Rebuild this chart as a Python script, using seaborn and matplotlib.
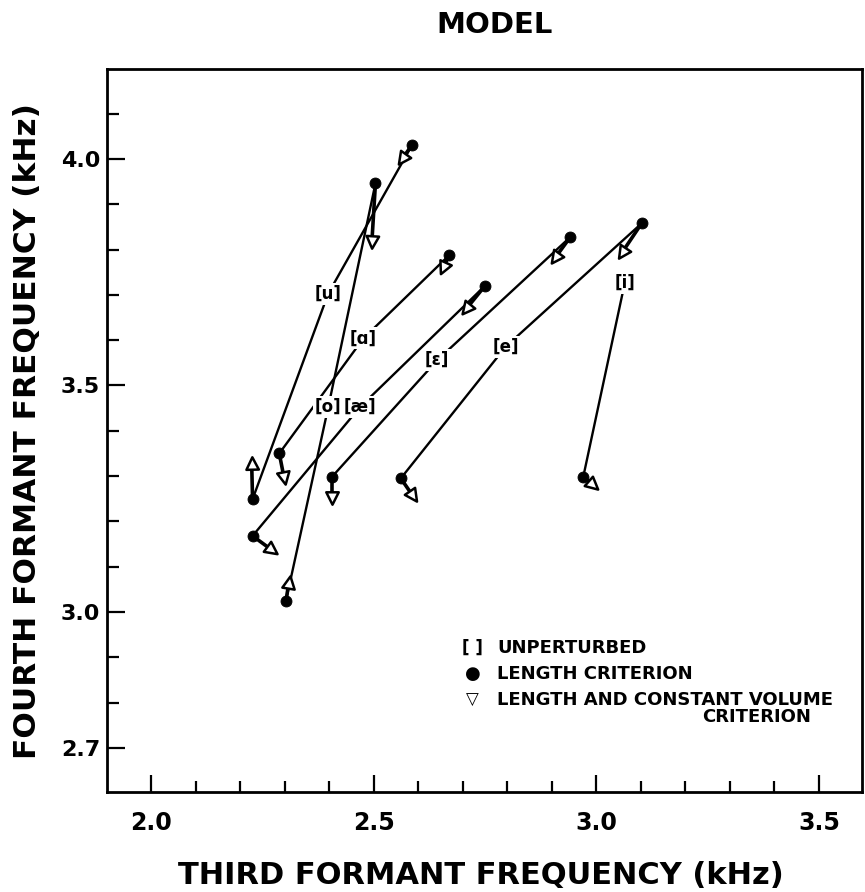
import numpy as np
import pandas as pd
import matplotlib
matplotlib.use("Agg")
import matplotlib.pyplot as plt
import seaborn as sns
from matplotlib.markers import MarkerStyle
from matplotlib.transforms import Affine2D
from matplotlib.ticker import FixedLocator

# ---------------- data (kHz) ----------------
vowels = ['[u]', '[o]', '[ɑ]', '[æ]', '[ɛ]', '[e]', '[i]']
unpert_f3 = [2.398, 2.398, 2.477, 2.469, 2.643, 2.797, 3.064]
unpert_f4 = [3.703, 3.452, 3.604, 3.452, 3.556, 3.586, 3.726]

pert_vowel = ['[u]', '[u]', '[o]', '[o]', '[ɑ]', '[ɑ]', '[æ]', '[æ]',
              '[ɛ]', '[ɛ]', '[e]', '[e]', '[i]']
length_f3 = [2.587, 2.228, 2.504, 2.303, 2.669, 2.288, 2.750, 2.228,
             2.942, 2.407, 3.102, 2.561, 2.971]
length_f4 = [4.032, 3.249, 3.946, 3.025, 3.787, 3.350, 3.720, 3.168,
             3.828, 3.299, 3.858, 3.295, 3.299]
volume_f3 = [2.563, 2.226, 2.496, 2.310, 2.656, 2.299, 2.707, 2.271,
             2.907, 2.407, 3.057, 2.589, 2.993]
volume_f4 = [3.999, 3.328, 3.817, 3.067, 3.759, 3.295, 3.668, 3.137,
             3.781, 3.251, 3.792, 3.255, 3.280]

x_major = [2.0, 2.5, 3.0, 3.5]
x_ticklabels = ['2.0', '2.5', '3.0', '3.5']
y_major = [2.7, 3.0, 3.5, 4.0]
y_ticklabels = ['2.7', '3.0', '3.5', '4.0']

legend_labels = ['UNPERTURBED', 'LENGTH CRITERION',
                 'LENGTH AND CONSTANT VOLUME', 'CRITERION']

# ---------------- style ----------------
sns.set_theme(style="white")
plt.rcParams['font.family'] = ['DejaVu Sans']
plt.rcParams['font.weight'] = 'bold'
plt.rcParams['axes.labelweight'] = 'bold'
plt.rcParams['text.color'] = 'black'
plt.rcParams['axes.labelcolor'] = 'black'
plt.rcParams['xtick.color'] = 'black'
plt.rcParams['ytick.color'] = 'black'

fig = plt.figure(figsize=(8.65, 8.92), dpi=100)
ax = fig.add_axes([107 / 865, 100 / 892, 755 / 865, 723 / 892])
ax.set_xlim(1.901, 3.597)
ax.set_ylim(2.6026, 4.1987)

# ---------------- line segments ----------------
up = dict(zip(vowels, zip(unpert_f3, unpert_f4)))
rows = []
for i, v in enumerate(pert_vowel):
    ux, uy = up[v]
    rows += [dict(seg=2 * i, f3=ux, f4=uy, k=0),
             dict(seg=2 * i, f3=length_f3[i], f4=length_f4[i], k=1)]
seg_df = pd.DataFrame(rows)
sns.lineplot(data=seg_df, x='f3', y='f4', units='seg', estimator=None,
             sort=False, color='black', lw=1.7, ax=ax, zorder=2)

rows2 = []
for i in range(len(pert_vowel)):
    rows2 += [dict(seg=i, f3=length_f3[i], f4=length_f4[i]),
              dict(seg=i, f3=volume_f3[i], f4=volume_f4[i])]
stub_df = pd.DataFrame(rows2)
sns.lineplot(data=stub_df, x='f3', y='f4', units='seg', estimator=None,
             sort=False, color='black', lw=2.6, ax=ax, zorder=3)

# length criterion: filled circles
sns.scatterplot(x=length_f3, y=length_f4, color='black', edgecolor='black',
                s=62, ax=ax, zorder=4)

# length + constant volume: open triangles pointing away from the circle
for lx, ly, vx, vy in zip(length_f3, length_f4, volume_f3, volume_f4):
    p0 = ax.transData.transform((lx, ly))
    p1 = ax.transData.transform((vx, vy))
    ang = np.degrees(np.arctan2(p1[1] - p0[1], p1[0] - p0[0])) - 90
    m = MarkerStyle('^', transform=Affine2D().rotate_deg(ang))
    ax.scatter([vx], [vy], marker=m, s=80, facecolor='white',
               edgecolor='black', linewidths=1.8, zorder=5)

# unperturbed vowel labels
for v, x, y in zip(vowels, unpert_f3, unpert_f4):
    ax.text(x, y, v, ha='center', va='center', fontsize=12, fontweight='bold',
            bbox=dict(boxstyle='square,pad=0.12', fc='white', ec='none'),
            zorder=6)

# ---------------- axes ----------------
for s in ax.spines.values():
    s.set_color('black')
    s.set_linewidth(2)

ax.xaxis.set_major_locator(FixedLocator(x_major))
ax.xaxis.set_minor_locator(FixedLocator(np.round(np.arange(2.0, 3.51, 0.1), 2)))
ax.yaxis.set_major_locator(FixedLocator(y_major))
ax.yaxis.set_minor_locator(FixedLocator(np.round(np.arange(2.7, 4.11, 0.1), 2)))
ax.set_xticklabels(x_ticklabels)
ax.set_yticklabels(y_ticklabels)

ax.tick_params(which='both', direction='in', width=1.6, color='black',
               labelcolor='black', bottom=True, left=True, top=False,
               right=False)
ax.tick_params(axis='x', which='major', length=12.5, pad=14, labelsize=17)
ax.tick_params(axis='x', which='minor', length=8)
ax.tick_params(axis='y', which='major', length=13, pad=5, labelsize=16)
ax.tick_params(axis='y', which='minor', length=8.5)

ax.set_xlabel('THIRD FORMANT FREQUENCY (kHz)', fontsize=22, fontweight='bold',
              color='black')
ax.set_ylabel('FOURTH FORMANT FREQUENCY (kHz)', fontsize=22.5,
              fontweight='bold', color='black')
ax.xaxis.set_label_coords(0.495, -0.095)
ax.yaxis.set_label_coords(-0.086, 0.499)

fig.text(0.572, 0.972, 'MODEL', ha='center', va='center', fontsize=21,
         fontweight='bold', color='black')

# ---------------- legend ----------------
lx0 = 0.484
tx0 = 0.517
ax.text(lx0, 0.1994, '[ ]', transform=ax.transAxes, ha='center', va='center',
        fontsize=12, fontweight='bold')
ax.text(lx0, 0.1634, '●', transform=ax.transAxes, ha='center', va='center',
        fontsize=13)
ax.text(lx0, 0.1274, '▽', transform=ax.transAxes, ha='center', va='center',
        fontsize=12, fontweight='bold')
ax.text(tx0, 0.1994, legend_labels[0], transform=ax.transAxes, ha='left',
        va='center', fontsize=13, fontweight='bold')
ax.text(tx0, 0.1634, legend_labels[1], transform=ax.transAxes, ha='left',
        va='center', fontsize=13, fontweight='bold')
ax.text(tx0, 0.1274, legend_labels[2], transform=ax.transAxes, ha='left',
        va='center', fontsize=13, fontweight='bold')
ax.text(0.788, 0.1039, legend_labels[3], transform=ax.transAxes, ha='left',
        va='center', fontsize=13, fontweight='bold')

fig.savefig('out.png', dpi=100)
